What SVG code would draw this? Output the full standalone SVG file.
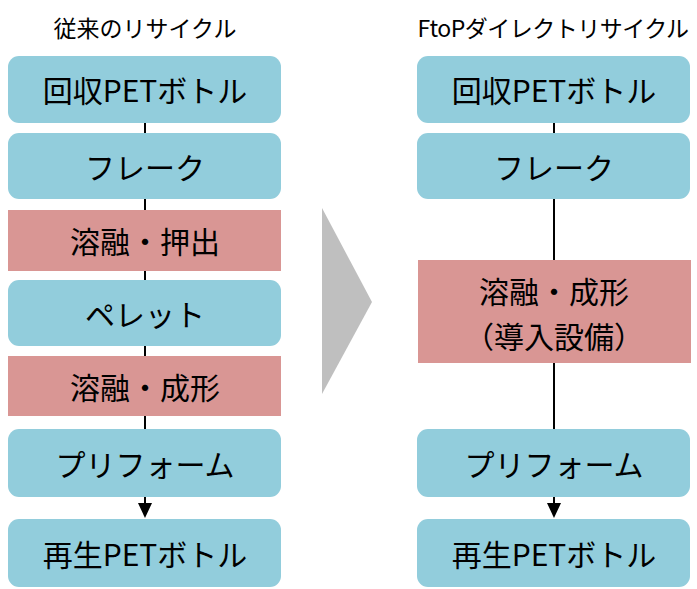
<svg xmlns="http://www.w3.org/2000/svg" width="697" height="589" viewBox="0 0 697 589">
<style>
.b{fill:#92CDDC}
.p{fill:#D99694}
.t{font-family:"Noto Sans CJK JP","Noto Sans",sans-serif;font-size:30px;fill:#000;text-anchor:middle;dominant-baseline:central}
.h{font-family:"Noto Sans CJK JP","Noto Sans",sans-serif;font-size:23px;fill:#000;text-anchor:middle;dominant-baseline:central}
.c{stroke:#000;stroke-width:2;fill:none}
</style>
<text class="h" x="145" y="27">従来のリサイクル</text>
<text class="h" x="553" y="27" letter-spacing="-0.5">FtoPダイレクトリサイクル</text>
<polygon id="bigarrow" points="322,208 372,302 322,394" fill="#BFBFBF"/>
<g id="connectors">
<line class="c" x1="145" y1="123" x2="145" y2="133"/>
<line class="c" x1="145" y1="199" x2="145" y2="210"/>
<line class="c" x1="145" y1="271" x2="145" y2="280"/>
<line class="c" x1="145" y1="346" x2="145" y2="356"/>
<line class="c" x1="145" y1="416" x2="145" y2="429"/>
<line class="c" x1="145" y1="497" x2="145" y2="503"/>
<polygon points="138,503 152,503 145,518" fill="#000"/>
<line class="c" x1="554" y1="123" x2="554" y2="133"/>
<line class="c" x1="554" y1="199" x2="554" y2="260"/>
<line class="c" x1="554" y1="363" x2="554" y2="429"/>
<line class="c" x1="554" y1="497" x2="554" y2="503"/>
<polygon points="547,503 561,503 554,518" fill="#000"/>
</g>
<g id="l1"><rect class="b" x="8" y="56" width="273" height="67" rx="11"/><text class="t" x="145" y="89">回収PETボトル</text></g>
<g id="l2"><rect class="b" x="8" y="133" width="273" height="66" rx="11"/><text class="t" x="145" y="166">フレーク</text></g>
<g id="l3"><rect class="p" x="8" y="210" width="273" height="61"/><text class="t" x="145" y="240">溶融・押出</text></g>
<g id="l4"><rect class="b" x="8" y="280" width="273" height="66" rx="11"/><text class="t" x="145" y="313">ペレット</text></g>
<g id="l5"><rect class="p" x="8" y="356" width="273" height="60"/><text class="t" x="145" y="386">溶融・成形</text></g>
<g id="l6"><rect class="b" x="8" y="429" width="273" height="68" rx="11"/><text class="t" x="145" y="463">プリフォーム</text></g>
<g id="l7"><rect class="b" x="8" y="519" width="273" height="68" rx="11"/><text class="t" x="145" y="553">再生PETボトル</text></g>
<g id="r1"><rect class="b" x="417" y="56" width="273" height="67" rx="11"/><text class="t" x="554" y="89">回収PETボトル</text></g>
<g id="r2"><rect class="b" x="417" y="133" width="273" height="66" rx="11"/><text class="t" x="554" y="166">フレーク</text></g>
<g id="r3"><rect class="p" x="418" y="260" width="273" height="103"/><text class="t" x="554" y="290">溶融・成形</text><text class="t" x="554" y="335">（導入設備）</text></g>
<g id="r4"><rect class="b" x="417" y="429" width="273" height="68" rx="11"/><text class="t" x="554" y="463">プリフォーム</text></g>
<g id="r5"><rect class="b" x="417" y="519" width="273" height="68" rx="11"/><text class="t" x="554" y="553">再生PETボトル</text></g>
</svg>
